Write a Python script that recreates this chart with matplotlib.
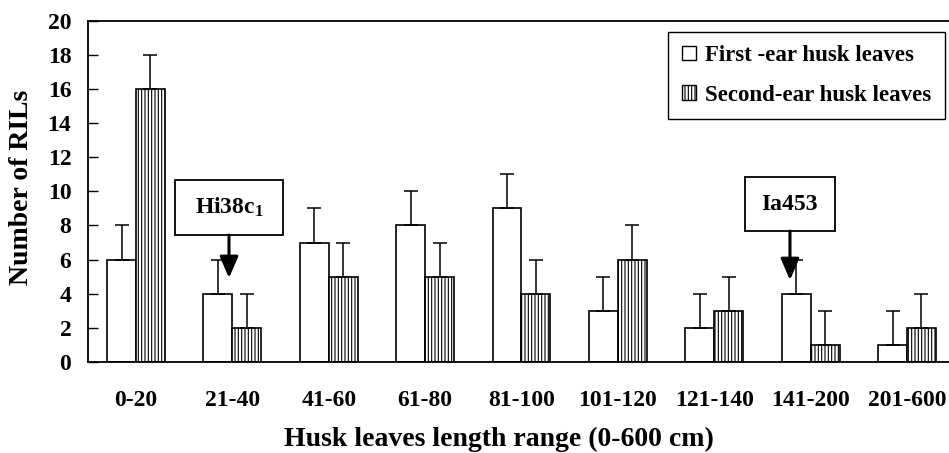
import matplotlib
matplotlib.use("Agg")
import matplotlib.pyplot as plt
import numpy as np
from matplotlib.patches import Rectangle, Patch

# ---- data ----
categories = ["0-20", "21-40", "41-60", "61-80", "81-100", "101-120",
              "121-140", "141-200", "201-600"]
first_ear = [6, 4, 7, 8, 9, 3, 2, 4, 1]
second_ear = [16, 2, 5, 5, 4, 6, 3, 1, 2]
first_err = [2, 2, 2, 2, 2, 2, 2, 2, 2]
second_err = [2, 2, 2, 2, 2, 2, 2, 2, 2]
series_labels = ["First -ear husk leaves", "Second-ear husk leaves"]
y_ticks = [0, 2, 4, 6, 8, 10, 12, 14, 16, 18, 20]
annot_labels = ["Hi38c$_1$", "Ia453"]

plt.rcParams['font.family'] = ['Liberation Serif', 'DejaVu Serif']
plt.rcParams['font.weight'] = 'bold'
plt.rcParams['mathtext.fontset'] = 'custom'
plt.rcParams['mathtext.rm'] = 'Liberation Serif'
plt.rcParams['mathtext.bf'] = 'Liberation Serif:bold'
plt.rcParams['mathtext.default'] = 'rm'
plt.rcParams['hatch.linewidth'] = 0.8

fig = plt.figure(figsize=(9.49, 4.53), dpi=100)
ax = fig.add_axes([88/949, 91/453, 1 - 88/949, 341.3/453])

x = np.arange(len(categories))
w = 0.30
ax.bar(x - w/2, first_ear, w, color='white', edgecolor='black', linewidth=1.2, zorder=2)
ax.bar(x + w/2, second_ear, w, color='white', edgecolor='black', linewidth=1.2,
       hatch='|||||', zorder=2)
# upward-only error bars
ax.errorbar(x - w/2, first_ear, yerr=[np.zeros(len(x)), first_err], fmt='none',
            ecolor='black', elinewidth=1.1, capsize=4.7, capthick=1.1, zorder=3)
ax.errorbar(x + w/2, second_ear, yerr=[np.zeros(len(x)), second_err], fmt='none',
            ecolor='black', elinewidth=1.1, capsize=4.7, capthick=1.1, zorder=3)

ax.set_xlim(-0.498, 8.436)
ax.set_ylim(0, 20)
ax.set_yticks(y_ticks)
ax.set_yticklabels([str(v) for v in y_ticks], fontsize=17, fontweight='bold')
ax.set_xticks(x)
ax.set_xticklabels(categories, fontsize=17, fontweight='bold')
ax.tick_params(axis='y', direction='in', length=7, width=1, pad=12)
ax.tick_params(axis='x', length=0, pad=20)
for s in ['left', 'top', 'bottom']:
    ax.spines[s].set_linewidth(1.3)
ax.spines['right'].set_visible(False)

ax.text(0.477, -0.246, "Husk leaves length range (0-600 cm)", transform=ax.transAxes,
        ha='center', va='baseline', fontsize=20, fontweight='bold')
fig.text(22/949, 1 - 187.5/453, "Number of RILs", rotation=90, ha='center', va='center',
         fontsize=20, fontweight='bold')

# annotation boxes with arrows
boxes = [(0.405, 7.44, 1.12, 3.22), (6.319, 7.67, 0.934, 3.17)]
tips = [(0.965, 4.92), (6.786, 4.80)]
for lab, (bx, by, bw, bh), (tx, ty) in zip(annot_labels, boxes, tips):
    ax.add_patch(Rectangle((bx, by), bw, bh, facecolor='white', edgecolor='black',
                           linewidth=1.3, zorder=4))
    ax.text(bx + bw/2, by + bh/2, lab, ha='center', va='center', fontsize=17,
            fontweight='bold', zorder=5)
    ax.annotate('', xy=(tx, ty), xytext=(tx, by),
                arrowprops=dict(arrowstyle='-|>,head_length=0.65,head_width=0.28',
                                lw=2.2, color='black', shrinkA=0, shrinkB=0,
                                mutation_scale=20), zorder=5)

handles = [Patch(facecolor='white', edgecolor='black', linewidth=1.0),
           Patch(facecolor='white', edgecolor='black', linewidth=1.0, hatch='|||||')]
leg = fig.legend(handles, series_labels, loc='upper right',
                 bbox_to_anchor=(945/949, 1 - 31.5/453), fontsize=16.5,
                 frameon=True, fancybox=False, edgecolor='black', framealpha=1,
                 handlelength=0.6, handleheight=0.6, handletextpad=0.4,
                 labelspacing=0.8, borderpad=0.6, borderaxespad=0)
leg.get_frame().set_linewidth(1.0)
for t in leg.get_texts():
    t.set_fontweight('bold')

fig.savefig("out.png", dpi=100)
